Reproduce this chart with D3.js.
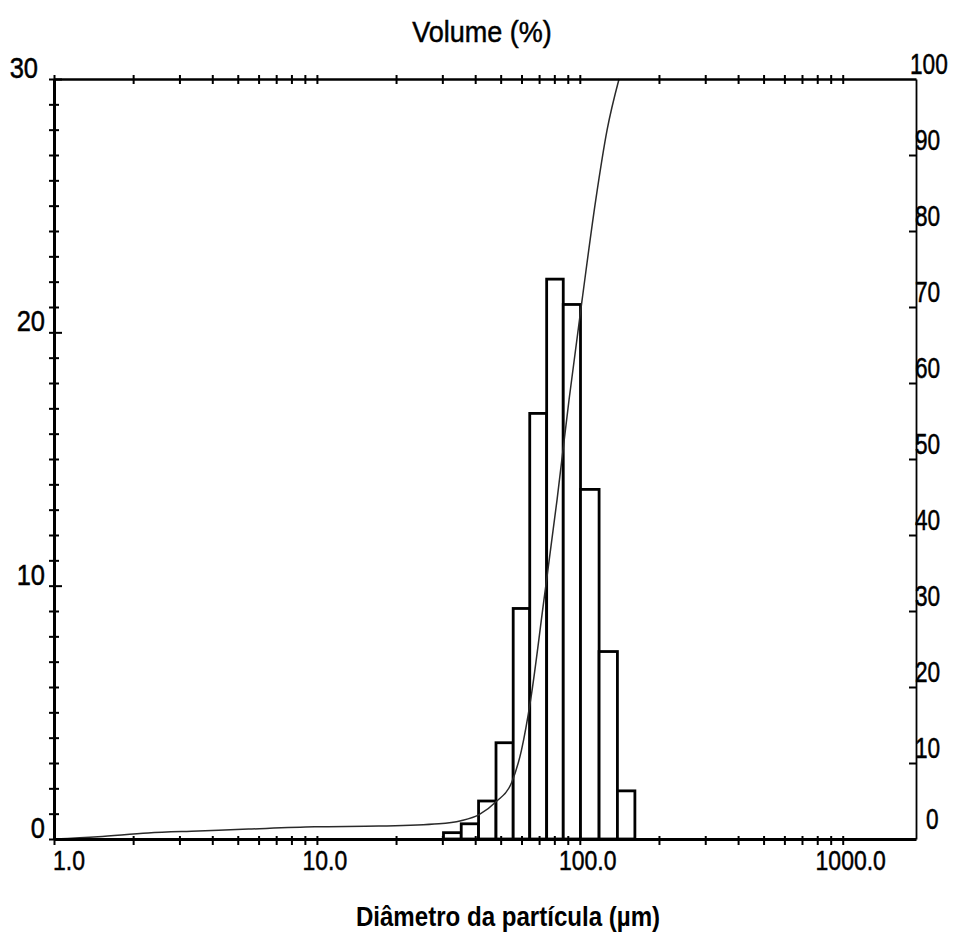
<!DOCTYPE html>
<html>
<head>
<meta charset="utf-8">
<script src="https://cdn.jsdelivr.net/npm/d3@7"></script>
<style>
  body { margin: 0; background: #fff; }
  #plot { width: 961px; height: 941px; }
  text { font-family: "Liberation Sans Narrow", "Arial Narrow", "Liberation Sans", Arial, sans-serif; fill: #000; }
  .lab { stroke: #000; stroke-width: 0.5px; }
</style>
</head>
<body>
<div id="plot"></div>
<script>
// Data
var binEdges = [30.3, 35.4, 41.2, 48.0, 55.8, 64.5, 74.8, 86.5, 100.6, 118.4, 139.0, 162.0];
var binValues = [0.25, 0.6, 1.5, 3.8, 9.1, 16.8, 22.1, 21.1, 13.8, 7.4, 1.9];

var cumSize = [1.0, 1.47, 2.28, 3.54, 5.49, 9.8, 17.2, 29.1, 35.3, 41.4, 48.0, 55.0, 60.0, 65.0, 73.0, 81.9, 91.0, 102, 115, 127, 141];
var cumValues = [0, 0.3, 0.8, 1.05, 1.3, 1.6, 1.7, 2.0, 2.4, 3.2, 4.9, 7.4, 11.7, 18.3, 31.4, 44.6, 57.8, 70.9, 84.1, 93.3, 100];

var xTickLabels = [1, 10, 100, 1000];
var leftTickLabels = [0, 10, 20, 30];
var rightTickLabels = [0, 10, 20, 30, 40, 50, 60, 70, 80, 90, 100];

// sizes (note: "top" is taken by window.top)
var w = 961, h = 941;
var padLeft = 54, padRight = 916, padTop = 79, padBottom = 839;

var svg1 = d3.select("#plot").append("svg")
    .attr("width", w)
    .attr("height", h);

// squeeze text a bit, the original uses a narrow face
var narrow = function(sel, k) {
  sel.each(function() {
    var len = this.getComputedTextLength();
    d3.select(this).attr("textLength", len * k).attr("lengthAdjust", "spacingAndGlyphs");
  });
};

// scales
var xScale = d3.scaleLog().domain([1, 1900]).range([padLeft, padRight]);
var yLeft = d3.scaleLinear().domain([0, 30]).range([padBottom, padTop]);
var yRight = d3.scaleLinear().domain([0, 100]).range([padBottom, padTop]);

// log minor ticks 1..1000
var logTicks = xScale.ticks().filter(function(d) { return d <= 1000; });

// bars
var bars = binValues.map(function(v, i) {
  return { x0: binEdges[i], x1: binEdges[i + 1], v: v };
});

svg1.selectAll(".bar")
    .data(bars)
    .enter().append("rect")
    .attr("class", "bar")
    .attr("x", function(d) { return xScale(d.x0); })
    .attr("width", function(d) { return xScale(d.x1) - xScale(d.x0); })
    .attr("y", function(d) { return yLeft(d.v); })
    .attr("height", function(d) { return yLeft(0) - yLeft(d.v); })
    .attr("fill", "#fff")
    .attr("stroke", "#000")
    .attr("stroke-width", 2.8);

// cumulative curve
var line = d3.line()
    .x(function(d) { return xScale(d[0]); })
    .y(function(d) { return yRight(d[1]); })
    .curve(d3.curveMonotoneX);

svg1.append("path")
    .datum(cumSize.map(function(s, i) { return [s, cumValues[i]]; }))
    .attr("d", line)
    .attr("fill", "none")
    .attr("stroke", "#2a2a2a")
    .attr("stroke-width", 1.5);

// bottom axis
var xAxis = d3.axisBottom(xScale).tickValues(logTicks).tickFormat("").tickSizeOuter(0);
var gx = svg1.append("g")
    .attr("transform", "translate(0," + padBottom + ")")
    .call(xAxis);
gx.select(".domain").attr("stroke-width", 3);
gx.selectAll(".tick line").attr("y1", -3).attr("y2", 6).attr("stroke-width", 2);

gx.selectAll(".xlab")
    .data(xTickLabels)
    .enter().append("text")
    .attr("class", "xlab lab")
    .attr("x", function(d) { return d === 1 ? xScale(d) - 1 : xScale(d) + 8; })
    .attr("y", 31)
    .attr("text-anchor", function(d) { return d === 1 ? "start" : "middle"; })
    .style("font-size", "28px")
    .text(function(d) { return d3.format(".1f")(d); })
    .call(narrow, 0.82);

// top axis
var topAxis = d3.axisTop(xScale).tickValues(logTicks).tickFormat("").tickSizeOuter(0);
var gt = svg1.append("g")
    .attr("transform", "translate(0," + padTop + ")")
    .call(topAxis);
gt.select(".domain").attr("stroke-width", 2.4);
gt.selectAll(".tick line").attr("y1", -4).attr("y2", 5).attr("stroke-width", 2);

// left axis
var yAxisL = d3.axisLeft(yLeft).tickValues(d3.range(0, 31)).tickFormat("").tickSizeOuter(0);
var gl = svg1.append("g")
    .attr("transform", "translate(" + padLeft + ",0)")
    .call(yAxisL);
gl.select(".domain").attr("stroke-width", 3);
gl.selectAll(".tick line")
    .attr("x1", -5)
    .attr("x2", function(d) { return d % 10 === 0 ? 8 : 5; })
    .attr("stroke-width", 2);

gl.selectAll(".ylab")
    .data(leftTickLabels)
    .enter().append("text")
    .attr("class", "ylab lab")
    .attr("x", function(d) { return d === 30 ? -16 : -9; })
    .attr("y", function(d) { return yLeft(d) - 1; })
    .attr("text-anchor", "end")
    .style("font-size", "30px")
    .text(function(d) { return d; })
    .call(narrow, 0.85);

// right axis
var yAxisR = d3.axisRight(yRight).tickValues(d3.range(10, 100, 10)).tickFormat("").tickSizeOuter(0);
var gr = svg1.append("g")
    .attr("transform", "translate(" + padRight + ",0)")
    .call(yAxisR);
gr.select(".domain").attr("stroke-width", 1.8);
gr.selectAll(".tick line").attr("x1", -7).attr("x2", 0).attr("stroke-width", 2);

gr.selectAll(".rlab")
    .data(rightTickLabels)
    .enter().append("text")
    .attr("class", "rlab lab")
    .attr("x", function(d) { return d === 0 ? 10 : (d === 100 ? -6 : -1); })
    .attr("y", function(d) { return d === 0 ? yRight(d) - 10 : yRight(d) - 5; })
    .attr("text-anchor", "start")
    .style("font-size", "29px")
    .text(function(d) { return d; })
    .call(narrow, 0.78);

// titles
svg1.append("text")
    .attr("class", "lab")
    .attr("x", 482)
    .attr("y", 42)
    .attr("text-anchor", "middle")
    .style("font-size", "30px")
    .text("Volume (%)")
    .call(narrow, 0.9);

svg1.append("text")
    .attr("x", 508)
    .attr("y", 926)
    .attr("text-anchor", "middle")
    .style("font-size", "28px")
    .style("font-weight", "bold")
    .text("Diâmetro da partícula (µm)")
    .call(narrow, 0.86);
</script>
</body>
</html>
